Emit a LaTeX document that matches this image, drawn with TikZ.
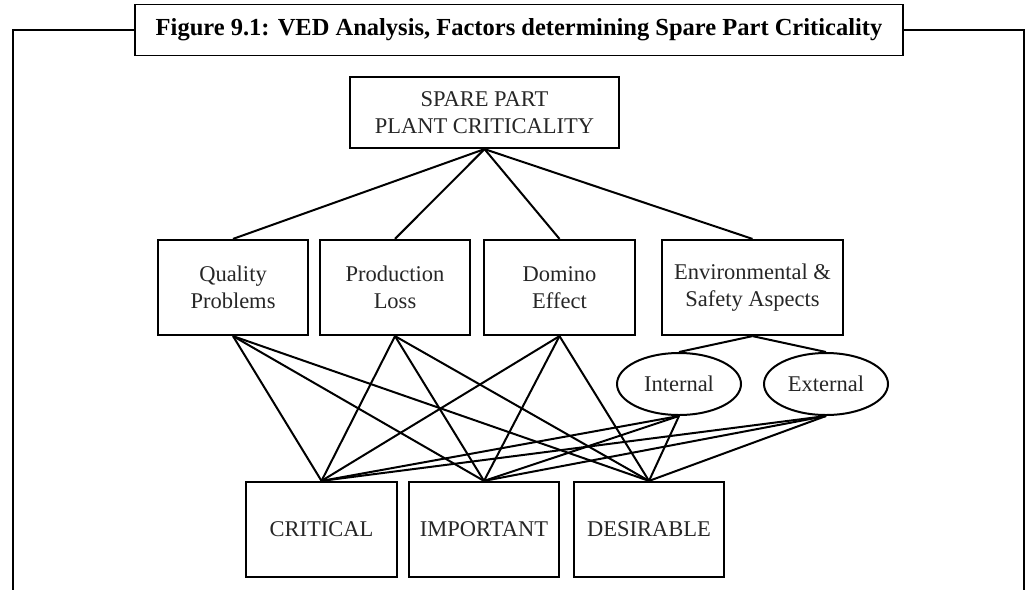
\documentclass[tikz,border=0pt]{standalone}
\usepackage{fontspec}
\setmainfont{Liberation Serif}
\usetikzlibrary{shapes.geometric}
\begin{document}
\begin{tikzpicture}[x=1pt, y=-1pt,
    box/.style={draw, line width=2.2pt, inner sep=0pt, align=center, text=black!85,
        minimum width=150pt, minimum height=95pt, font=\fontsize{22.5}{27}\selectfont},
    oval/.style={draw, ellipse, line width=2pt, inner sep=0pt, text=black!85,
        minimum width=124pt, minimum height=62pt, font=\fontsize{22.5}{27}\selectfont},
    link/.style={line width=2pt}]
    % 画布大小
                                        \useasboundingbox (0,0) rectangle (1028,590);
    % 标题与外框
                                        \node[draw, line width=1.8pt, minimum width=768pt, minimum height=51pt, inner sep=0pt,
                                            font=\fontsize{24.5}{28}\selectfont\bfseries] (title) at (519,30)
                                            {Figure 9.1: VED Analysis, Factors determining Spare Part Criticality};
                                        \draw[line width=1.8pt] (title.west) -| (13,590); % 左边
                                        \draw[line width=1.8pt] (title.east) -| (1024,590); % 右边
    % 各层方框
                                        \node[box, minimum width=269pt, minimum height=71pt] (spare) at (484.5,112.5) {SPARE PART\\PLANT CRITICALITY};
                                        \node[box] (qual) at (233,287.5) {Quality\\Problems};
                                        \node[box] (prod) at (395,287.5) {Production\\Loss};
                                        \node[box, minimum width=151pt] (dom) at (559.5,287.5) {Domino\\Effect};
                                        \node[box, minimum width=181pt] (env) at (752.5,287.5) {Environmental \&\\Safety Aspects};
                                        \node[oval] (int) at (679,384) {Internal};
                                        \node[oval] (ext) at (826,384) {External};
                                        \node[box, minimum width=151pt] (crit) at (321.5,529.5) {CRITICAL};
                                        \node[box] (imp) at (484,529.5) {IMPORTANT};
                                        \node[box] (des) at (649,529.5) {DESIRABLE};
    % 连线
                                        \foreach \f in {qual,prod,dom,env}
                                            \draw[link] (spare.south) -- (\f.north);
                                        \draw[link] (env.south) -- (int.north);
                                        \draw[link] (env.south) -- (ext.north);
                                        \foreach \f in {qual,prod,dom,int,ext}
                                            \foreach \c in {crit,imp,des}
                                                \draw[link] (\f.south) -- (\c.north);
\end{tikzpicture}
\end{document}
